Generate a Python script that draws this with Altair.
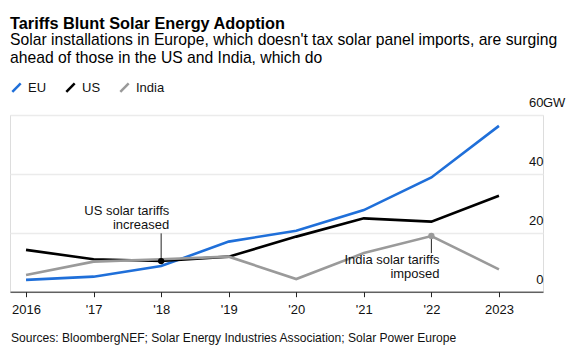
import altair as alt
import pandas as pd

years = [2016, 2017, 2018, 2019, 2020, 2021, 2022, 2023]
eu = [4.0, 5.1, 8.7, 17.0, 20.7, 27.7, 38.8, 56.3]
us = [14.2, 11.0, 10.4, 11.9, 18.7, 24.9, 23.8, 32.6]
india = [5.7, 10.2, 11.0, 11.9, 4.3, 13.1, 18.9, 7.6]
series = ["EU", "US", "India"]
colors = ["#1f6fd9", "#000000", "#9a9a9a"]
y_ticks = [0, 20, 40, 60]

rows = []
for name, vals in zip(series, [eu, us, india]):
    for yr, v in zip(years, vals):
        rows.append({"year": yr, "value": v, "series": name})
df = pd.DataFrame(rows)

notes = pd.DataFrame({
    "year": [2018, 2022],
    "value": [10.4, 18.9],
    "series": ["US", "India"],
    "rule_end": [19.8, 13.1],
    "y_text": [26.0, 9.4],
    "label": [["US solar tariffs", "increased"], ["India solar tariffs", "imposed"]],
    "tx": [2018.12, 2022.12],
})

FONT = "Liberation Sans"
W, H = 533, 176.7

x_scale = alt.Scale(domain=[2015.763, 2023.652], nice=False, zero=False)
y_scale = alt.Scale(domain=[0, 60], nice=False)
color_scale = alt.Scale(domain=series, range=colors)

x_enc = alt.X("year:Q", scale=x_scale, title=None,
              axis=alt.Axis(values=years, grid=False, domainColor="#222", domainWidth=1,
                            tickColor="#222", tickSize=5, labelPadding=7, labelFontSize=13,
                            labelColor="#111", labelFont=FONT,
                            labelExpr="datum.value == 2016 || datum.value == 2023 ? toString(datum.value) : \"'\" + slice(toString(datum.value), 2)"))

base = alt.Chart(df)

lines = base.mark_line(strokeWidth=2.6).encode(
    x=x_enc,
    y=alt.Y("value:Q", scale=y_scale, title=None,
            axis=alt.Axis(orient="right", values=y_ticks, domain=False, ticks=False, tickSize=0,
                          labelPadding=0, labelAlign="right", labelBaseline="alphabetic",
                          labelOffset=-8, labelFontSize=13, labelColor="#111", labelFont=FONT,
                          grid=True, gridColor="#ebebeb", gridWidth=1.5)),
    color=alt.Color("series:N", scale=color_scale, sort=series,
                    legend=alt.Legend(title=None, orient="none", legendX=0, legendY=-34,
                                      direction="horizontal", symbolType="M-1,1L1,-1",
                                      symbolSize=70, symbolStrokeWidth=2.5, labelFontSize=13,
                                      labelFont=FONT, labelColor="#111", columnPadding=14,
                                      labelOffset=5)),
)

rules = alt.Chart(notes).mark_rule(color="#222", strokeWidth=1).encode(
    x=alt.X("year:Q", scale=x_scale),
    y=alt.Y("value:Q", scale=y_scale),
    y2="rule_end:Q",
)

dots = alt.Chart(notes).mark_circle(size=40, opacity=1).encode(
    x=alt.X("year:Q", scale=x_scale),
    y=alt.Y("value:Q", scale=y_scale),
    color=alt.Color("series:N", scale=color_scale, legend=None),
)

texts = alt.Chart(notes).mark_text(align="right", baseline="alphabetic", font=FONT, fontSize=13,
                                   lineHeight=14, color="#111").encode(
    x=alt.X("tx:Q", scale=x_scale),
    y=alt.Y("y_text:Q", scale=y_scale),
    text="label",
)

gw = alt.Chart(pd.DataFrame({"v": [60], "t": ["GW"]})).mark_text(
    align="left", baseline="alphabetic", dy=-8, font=FONT, fontSize=13, color="#111").encode(
    x=alt.value(W),
    y=alt.Y("v:Q", scale=y_scale),
    text="t:N",
)

source = alt.Chart(pd.DataFrame({"t": ["Sources: BloombergNEF; Solar Energy Industries Association; Solar Power Europe"]})).mark_text(
    align="left", baseline="alphabetic", font=FONT, fontSize=12.1, color="#111").encode(
    x=alt.value(1),
    y=alt.value(H + 50),
    text="t:N",
)

chart = alt.layer(lines, rules, dots, texts, gw, source).properties(
    width=W, height=H,
    title=alt.TitleParams(
        text="Tariffs Blunt Solar Energy Adoption",
        subtitle=["Solar installations in Europe, which doesn't tax solar panel imports, are surging",
                  "ahead of those in the US and India, which do"],
        anchor="start", frame="group", font=FONT, fontSize=16.3, fontWeight="bold", color="#000",
        subtitleFont=FONT, subtitleFontSize=15.7, subtitleColor="#000", subtitleLineHeight=18.3,
        subtitlePadding=1, offset=15),
    padding={"left": 2, "top": 107, "right": 23, "bottom": 64},
    autosize=alt.AutoSizeParams(type="none"),
).configure_view(stroke=None).configure(background="white")

chart.save("out.html", embed_options={"renderer": "svg", "actions": False})
